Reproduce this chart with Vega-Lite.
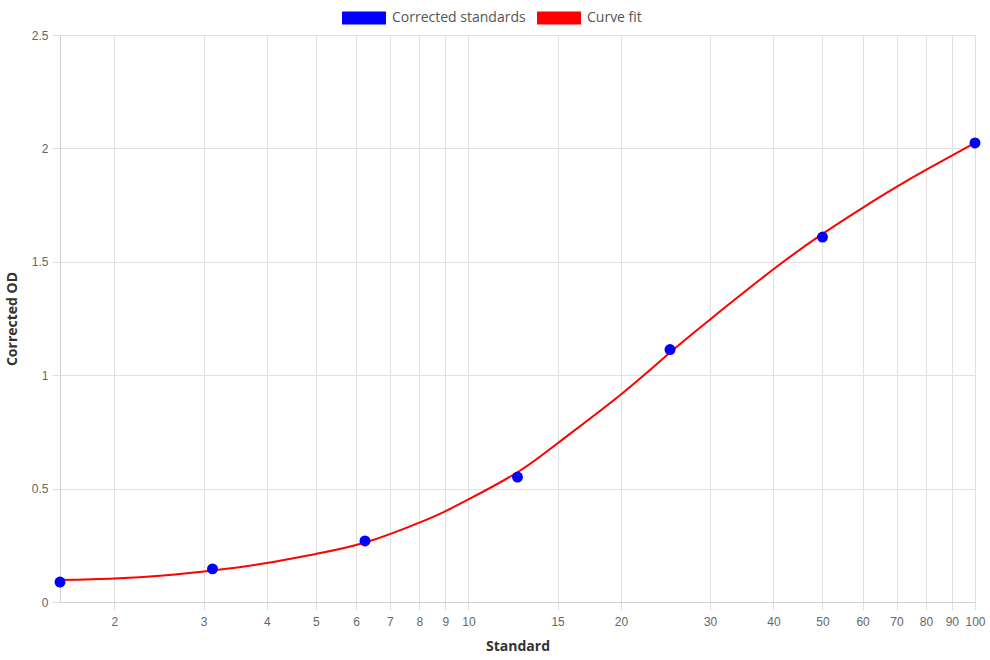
{
  "$schema": "https://vega.github.io/schema/vega-lite/v6.json",
  "autosize": {"type": "none"},
  "width": 915,
  "height": 567,
  "padding": {"left": 60, "top": 35, "right": 15, "bottom": 58},
  "background": "white",
  "datasets": {
    "curve": [
      {"Standard": 1.5625, "OD": 0.097, "series": "Curve fit"},
      {"Standard": 2, "OD": 0.104, "series": "Curve fit"},
      {"Standard": 2.5, "OD": 0.117, "series": "Curve fit"},
      {"Standard": 3.125, "OD": 0.139, "series": "Curve fit"},
      {"Standard": 4, "OD": 0.172, "series": "Curve fit"},
      {"Standard": 5, "OD": 0.212, "series": "Curve fit"},
      {"Standard": 6.25, "OD": 0.262, "series": "Curve fit"},
      {"Standard": 8, "OD": 0.350, "series": "Curve fit"},
      {"Standard": 9, "OD": 0.400, "series": "Curve fit"},
      {"Standard": 10, "OD": 0.452, "series": "Curve fit"},
      {"Standard": 12.5, "OD": 0.572, "series": "Curve fit"},
      {"Standard": 15, "OD": 0.700, "series": "Curve fit"},
      {"Standard": 20, "OD": 0.915, "series": "Curve fit"},
      {"Standard": 25, "OD": 1.100, "series": "Curve fit"},
      {"Standard": 30, "OD": 1.246, "series": "Curve fit"},
      {"Standard": 40, "OD": 1.467, "series": "Curve fit"},
      {"Standard": 50, "OD": 1.623, "series": "Curve fit"},
      {"Standard": 60, "OD": 1.738, "series": "Curve fit"},
      {"Standard": 70, "OD": 1.830, "series": "Curve fit"},
      {"Standard": 80, "OD": 1.905, "series": "Curve fit"},
      {"Standard": 90, "OD": 1.968, "series": "Curve fit"},
      {"Standard": 100, "OD": 2.024, "series": "Curve fit"}
    ],
    "standards": [
      {"Standard": 1.5625, "OD": 0.088, "series": "Corrected standards"},
      {"Standard": 3.125, "OD": 0.146, "series": "Corrected standards"},
      {"Standard": 6.25, "OD": 0.269, "series": "Corrected standards"},
      {"Standard": 12.5, "OD": 0.551, "series": "Corrected standards"},
      {"Standard": 25, "OD": 1.113, "series": "Corrected standards"},
      {"Standard": 50, "OD": 1.609, "series": "Corrected standards"},
      {"Standard": 100, "OD": 2.024, "series": "Corrected standards"}
    ]
  },
  "encoding": {
    "x": {
      "field": "Standard",
      "type": "quantitative",
      "scale": {"type": "log", "domain": [1.5625, 100], "nice": false},
      "axis": {
        "title": "Standard",
        "values": [2, 3, 4, 5, 6, 7, 8, 9, 10, 15, 20, 30, 40, 50, 60, 70, 80, 90, 100],
        "format": "~g",
        "labelFont": "Liberation Sans",
        "labelFontSize": 12,
        "labelColor": "#666666",
        "labelPadding": 6,
        "labelOverlap": false,
        "labelFlush": false,
        "tickSize": 8,
        "tickColor": "#e0e0e0",
        "domainColor": "#d0d0d0",
        "gridColor": "#e0e0e0",
        "titleFont": "Open Sans",
        "titleFontSize": 14,
        "titleFontWeight": "bold",
        "titleColor": "#333333",
        "titlePadding": 12
      }
    },
    "y": {
      "field": "OD",
      "type": "quantitative",
      "scale": {"domain": [0, 2.5], "nice": false},
      "axis": {
        "title": "Corrected OD",
        "values": [0, 0.5, 1, 1.5, 2, 2.5],
        "format": "~g",
        "labelFont": "Liberation Sans",
        "labelFontSize": 12,
        "labelColor": "#666666",
        "labelPadding": 4,
        "tickSize": 8,
        "tickColor": "#e0e0e0",
        "domainColor": "#d0d0d0",
        "gridColor": "#e0e0e0",
        "titleFont": "Open Sans",
        "titleFontSize": 14,
        "titleFontWeight": "bold",
        "titleColor": "#333333",
        "titlePadding": 12
      }
    },
    "color": {
      "field": "series",
      "type": "nominal",
      "scale": {"domain": ["Corrected standards", "Curve fit"], "range": ["#0000ff", "#ff0000"]},
      "legend": {
        "title": null,
        "orient": "none",
        "direction": "horizontal",
        "legendX": 282,
        "legendY": -39,
        "padding": 0,
        "symbolType": "M-1,-0.3L1,-0.3L1,0.3L-1,0.3Z",
        "symbolSize": 1936,
        "symbolStrokeWidth": 0,
        "labelFont": "Open Sans",
        "labelFontSize": 14,
        "labelColor": "#555555",
        "labelOffset": 6,
        "columnPadding": 11,
        "encode": {"symbols": {"update": {"fill": {"scale": "color", "field": "value"}, "fillOpacity": {"value": 1}, "strokeWidth": {"value": 0}}}}
      }
    }
  },
  "layer": [
    {
      "data": {"name": "curve"},
      "mark": {"type": "line", "interpolate": "natural", "strokeWidth": 2}
    },
    {
      "data": {"name": "standards"},
      "mark": {"type": "point", "filled": true, "size": 120, "opacity": 1}
    }
  ],
  "config": {"view": {"stroke": null}}
}
